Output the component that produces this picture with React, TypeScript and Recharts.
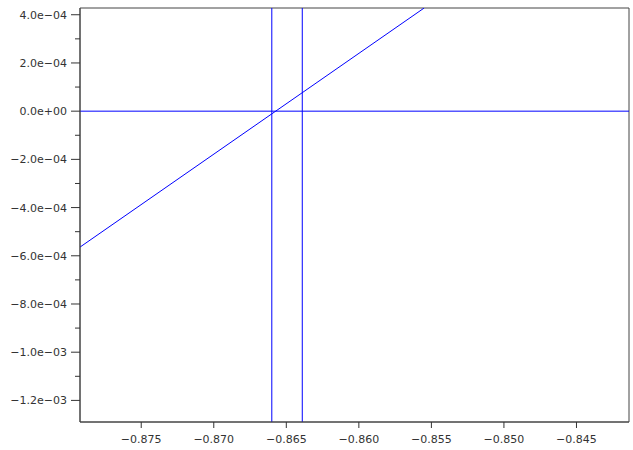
import React from "react";
import {
  LineChart,
  Line,
  XAxis,
  YAxis,
  ReferenceLine,
  ReferenceArea,
} from "recharts";

// Axis ranges
const xDomain: [number, number] = [-0.87922, -0.84138];
const yDomain: [number, number] = [-1.2896e-3, 4.28e-4];

// Tick values
const xTicks = [-0.875, -0.87, -0.865, -0.86, -0.855, -0.85, -0.845];
const yMajorTicks = [4e-4, 2e-4, 0, -2e-4, -4e-4, -6e-4, -8e-4, -1e-3, -1.2e-3];
const yMinorTicks = [3e-4, 1e-4, -1e-4, -3e-4, -5e-4, -7e-4, -9e-4, -1.1e-3];

// Straight line through the plot
const lineX = [-0.87922, -0.8555];
const lineY = [-5.64e-4, 4.28e-4];

// Guide lines
const verticalMarks = [-0.866, -0.8639];
const horizontalMarks = [0];

const lineData = lineX.map((x, i) => ({ x, y: lineY[i] }));
const yTicks = [...yMajorTicks, ...yMinorTicks].sort((a, b) => b - a);

const AXIS = "#444";
const TEXT = "#333";
const BLUE = "#0000ff";
const FONT = "'DejaVu Sans', sans-serif";

const MINUS = "\u2212";

const fmtX = (v: number) => v.toFixed(3).replace("-", MINUS);

const fmtY = (v: number) => {
  if (v === 0) return "0.0e+00";
  const [mant, exp] = v.toExponential(1).split("e");
  const sign = exp.startsWith("-") ? MINUS : "+";
  const digits = exp.replace(/[+-]/, "").padStart(2, "0");
  return `${mant.replace("-", MINUS)}e${sign}${digits}`;
};

const isMajor = (v: number) => yMajorTicks.some((t) => Math.abs(t - v) < 1e-9);

const YTick = (props: any) => {
  const { x, y, payload } = props;
  const major = isMajor(payload.value);
  return (
    <g>
      <line x1={x - (major ? 9 : 5)} x2={x} y1={y} y2={y} stroke={TEXT} />
      {major && (
        <text
          x={x - 13}
          y={y}
          dy={4}
          textAnchor="end"
          fontSize={11}
          fontFamily={FONT}
          fill={TEXT}
        >
          {fmtY(payload.value)}
        </text>
      )}
    </g>
  );
};

export default function App() {
  return (
    <div style={{ width: 633, height: 450, background: "#fff" }}>
      <style>{`body{margin:0}`}</style>
      <LineChart
        width={633}
        height={450}
        data={lineData}
        margin={{ top: 8, right: 4, bottom: 0, left: 0 }}
      >
        {/* frame around the plotting area */}
        <ReferenceArea
          x1={xDomain[0]}
          x2={xDomain[1]}
          y1={yDomain[0]}
          y2={yDomain[1]}
          fill="none"
          stroke={AXIS}
          strokeWidth={1}
          ifOverflow="visible"
        />
        <XAxis
          dataKey="x"
          type="number"
          domain={xDomain}
          allowDataOverflow
          ticks={xTicks}
          tickFormatter={fmtX}
          height={28}
          tickSize={6}
          tickMargin={7}
          axisLine={{ stroke: AXIS }}
          tickLine={{ stroke: TEXT }}
          tick={{ fontSize: 11, fontFamily: FONT, fill: TEXT }}
        />
        <YAxis
          type="number"
          domain={yDomain}
          allowDataOverflow
          ticks={yTicks}
          interval={0}
          width={80}
          tickSize={0}
          tickMargin={0}
          tickLine={false}
          axisLine={{ stroke: AXIS }}
          tick={<YTick />}
        />
        {horizontalMarks.map((v) => (
          <ReferenceLine key={`h${v}`} y={v} stroke={BLUE} strokeWidth={1} />
        ))}
        {verticalMarks.map((v) => (
          <ReferenceLine key={`v${v}`} x={v} stroke={BLUE} strokeWidth={1} />
        ))}
        <Line
          dataKey="y"
          type="linear"
          stroke={BLUE}
          strokeWidth={1}
          dot={false}
          isAnimationActive={false}
        />
      </LineChart>
    </div>
  );
}
